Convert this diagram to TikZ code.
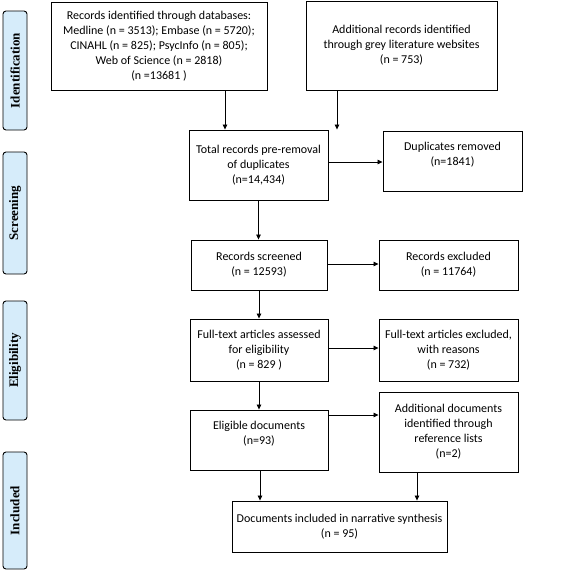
\documentclass[tikz,border=0pt]{standalone}
\usepackage{fontspec}
\setmainfont{Carlito}
\newfontfamily\labelfont{Liberation Serif}
\usetikzlibrary{arrows.meta}
\definecolor{lblue}{RGB}{214,236,250}
\begin{document}
\begin{tikzpicture}[x=1pt,y=-1pt,
  box/.style={draw=black,line width=0.9pt,inner sep=0pt,align=center,
    font=\fontsize{12}{15}\selectfont},
  phase/.style={draw=black,line width=0.9pt,fill=lblue,rounded corners=3pt,
    inner sep=0pt,minimum height=24pt,rotate=90,
    font=\labelfont\bfseries\fontsize{13}{15}\selectfont},
  arr/.style={line width=0.8pt,-{Triangle[length=5pt,width=4.5pt]}}]
\useasboundingbox (0,0) rectangle (567,571);
% phase labels
\node[phase,minimum width=119pt] (pid) at (15,70.5) {Identification};
\node[phase,minimum width=122pt] (psc) at (15,213) {Screening};
\node[phase,minimum width=119pt] (pel) at (15,360.5) {Eligibility};
\node[phase,minimum width=117pt] (pin) at (15,510.5) {Included};
% boxes
\node[box,minimum width=216pt,minimum height=88pt] (db) at (159,46)
  {Records identified through databases:\\Medline (n = 3513); Embase (n = 5720);\\CINAHL (n = 825); PsycInfo (n = 805);\\Web of Science (n = 2818)\\(n =13681 )};
\node[box,minimum width=191pt,minimum height=89pt] (grey) at (401.5,45.5)
  {Additional records identified\\through grey literature websites\\(n = 753)};
\node[box,minimum width=139pt,minimum height=70pt] (total) at (258.5,165)
  {Total records pre-removal\\of duplicates\\(n=14,434)};
\node[box,minimum width=139pt,minimum height=60pt] (dup) at (452.5,161)
  {Duplicates removed\\(n=1841)\\\mbox{}};
\node[box,minimum width=136pt,minimum height=50pt] (scr) at (259,265)
  {Records screened\\(n = 12593)};
\node[box,minimum width=139pt,minimum height=50pt] (exc) at (448.5,265)
  {Records excluded\\(n = 11764)};
\node[box,minimum width=138pt,minimum height=62pt] (ft) at (259,350)
  {Full-text articles assessed\\for eligibility\\(n = 829 )};
\node[box,minimum width=139pt,minimum height=62pt] (ftex) at (448.5,350)
  {Full-text articles excluded,\\with reasons\\(n = 732)};
\node[box,minimum width=138pt,minimum height=60pt] (elig) at (259,440)
  {Eligible documents\\(n=93)\\\mbox{}};
\node[box,minimum width=139pt,minimum height=80pt] (add) at (448.5,432)
  {Additional documents\\identified through\\reference lists\\(n=2)};
\node[box,minimum width=215pt,minimum height=51pt] (inc) at (339.5,526.5)
  {Documents included in narrative synthesis\\(n = 95)};
% arrows
\draw[arr] (db.south -| 225,0) -- (total.north -| 225,0);
\draw[arr] (grey.south -| 337,0) -- (total.north -| 337,0);
\draw[arr] (total.east |- 0,162) -- (dup.west |- 0,162);
\draw[arr] (total.south) -- (scr.north -| total.south);
\draw[arr] (scr.east |- 0,264) -- (exc.west |- 0,264);
\draw[arr] (scr.south) -- (ft.north -| scr.south);
\draw[arr] (ft.east |- 0,348) -- (ftex.west |- 0,348);
\draw[arr] (ft.south) -- (elig.north -| ft.south);
\draw[arr] (elig.east |- 0,415) -- (add.west |- 0,415);
\draw[arr] (elig.south -| 260,0) -- (inc.north -| 260,0);
\draw[arr] (add.south -| 417,0) -- (inc.north -| 417,0);
\end{tikzpicture}
\end{document}
